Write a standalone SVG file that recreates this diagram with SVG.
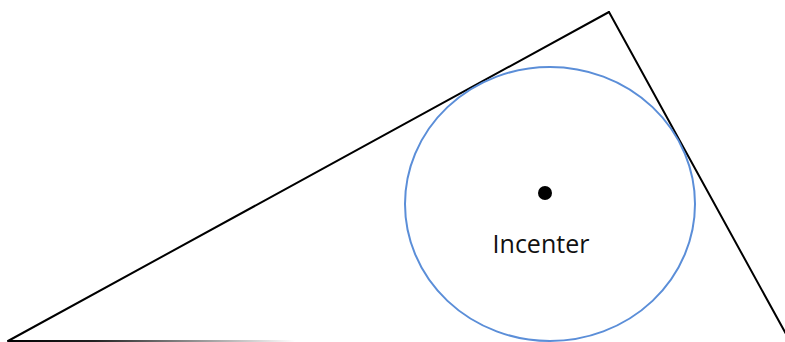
<svg xmlns="http://www.w3.org/2000/svg" width="785" height="342" viewBox="0 0 785 342">
<style>
.edge{stroke:#000;stroke-width:2;fill:none;stroke-linecap:round}
.circ{stroke:#5B8ED8;stroke-width:2;fill:none}
.lbl{font-family:"Open Sans","Liberation Sans",sans-serif;font-size:25px;fill:#111}
</style>
<defs>
<linearGradient id="fade" gradientUnits="userSpaceOnUse" x1="8" y1="0" x2="295" y2="0">
<stop offset="0" stop-color="#000"/>
<stop offset="0.3" stop-color="#222"/>
<stop offset="1" stop-color="#fff"/>
</linearGradient>
</defs>
<rect width="785" height="342" fill="#fff"/>
<g id="connectors">
<line class="edge" x1="8" y1="341" x2="609" y2="12"/>
<line class="edge" x1="609" y1="12" x2="786" y2="334"/>
<line x1="8" y1="341" x2="295" y2="341" stroke="url(#fade)" stroke-width="2"/>
</g>
<g id="incircle">
<ellipse class="circ" cx="550" cy="204" rx="145" ry="137"/>
</g>
<g id="incenter">
<circle cx="545" cy="193" r="7" fill="#000"/>
<text class="lbl" x="541" y="253" text-anchor="middle">Incenter</text>
</g>
</svg>
